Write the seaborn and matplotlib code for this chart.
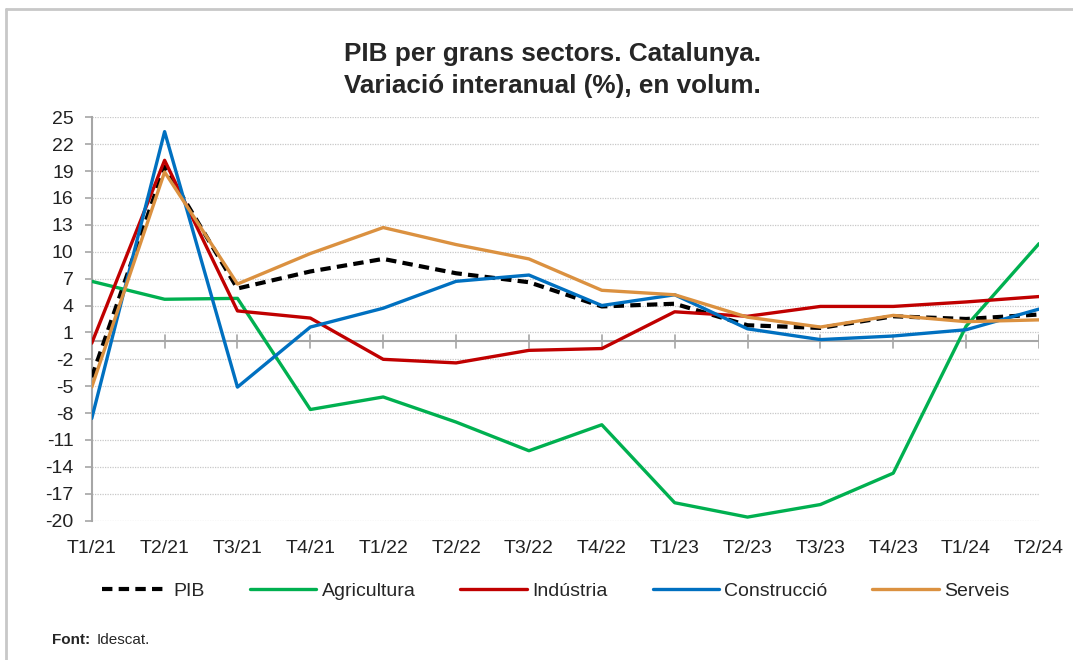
import pandas as pd
import matplotlib.pyplot as plt
import seaborn as sns
from matplotlib.lines import Line2D

# Data
quarters = ["T1/21", "T2/21", "T3/21", "T4/21", "T1/22", "T2/22", "T3/22",
            "T4/22", "T1/23", "T2/23", "T3/23", "T4/23", "T1/24", "T2/24"]
pib = [-4.0, 19.5, 5.9, 7.8, 9.2, 7.6, 6.6, 3.9, 4.2, 1.8, 1.5, 2.8, 2.5, 3.0]
agricultura = [6.7, 4.7, 4.8, -7.6, -6.2, -9.0, -12.2, -9.3, -18.0, -19.6, -18.2, -14.7, 1.7, 10.9]
industria = [-0.2, 20.2, 3.4, 2.6, -2.0, -2.4, -1.0, -0.8, 3.3, 2.8, 3.9, 3.9, 4.4, 5.0]
construccio = [-8.6, 23.4, -5.1, 1.6, 3.7, 6.7, 7.4, 4.0, 5.2, 1.4, 0.2, 0.6, 1.3, 3.6]
serveis = [-5.1, 18.9, 6.4, 9.8, 12.7, 10.8, 9.2, 5.7, 5.2, 2.7, 1.6, 2.9, 2.2, 2.4]

series = {
    "PIB": pib,
    "Agricultura": agricultura,
    "Indústria": industria,
    "Construcció": construccio,
    "Serveis": serveis,
}

rows = []
for name, vals in series.items():
    for i, v in enumerate(vals):
        rows.append({"pos": i, "valor": v, "serie": name})
df = pd.DataFrame(rows)

palette = {
    "PIB": "#000000",
    "Agricultura": "#00B050",
    "Indústria": "#C00000",
    "Construcció": "#0070C0",
    "Serveis": "#DB9140",
}
dashes = {
    "PIB": (2.5, 1.5),
    "Agricultura": "",
    "Indústria": "",
    "Construcció": "",
    "Serveis": "",
}

sns.set_style("white")
plt.rcParams["font.family"] = ["Liberation Sans", "DejaVu Sans"]

fig = plt.figure(figsize=(10.73, 6.60), dpi=100)
ax = fig.add_axes([0.0855, 0.2111, 0.8828, 0.6112])

# y grid (dotted) and zero axis
yticks = list(range(-20, 26, 3))
for t in yticks:
    ax.axhline(t, color="#c8c8c8", lw=0.9, ls=(0, (1, 1)), zorder=0)
ax.axhline(0, color="#a6a6a6", lw=1.5, zorder=1)
for i in range(1, len(quarters)):
    ax.plot([i, i], [-0.7, 0.7], color="#a6a6a6", lw=1.2, zorder=1)

sns.lineplot(
    data=df, x="pos", y="valor", hue="serie", style="serie",
    palette=palette, dashes=dashes, linewidth=2.4, ax=ax, legend=False,
    zorder=3,
)
# thicker PIB line
ax.lines[-5].set_linewidth(3.0)

ax.set_xlim(0, len(quarters) - 1)
ax.set_ylim(-20, 25)
ax.set_yticks(yticks)
ax.set_yticklabels([str(t) for t in yticks], fontsize=14, color="#222222")
ax.set_xticks(range(len(quarters)))
ax.set_xticklabels(quarters, fontsize=14, color="#222222")
ax.tick_params(axis="x", length=0, pad=14)
ax.tick_params(axis="y", length=5, width=1.2, color="#a6a6a6", pad=8, left=True)
ax.set_xlabel("")
ax.set_ylabel("")

for s in ["top", "right", "bottom"]:
    ax.spines[s].set_visible(False)
ax.spines["left"].set_color("#a6a6a6")
ax.spines["left"].set_linewidth(1.5)

fig.text(0.515, 0.894, "PIB per grans sectors. Catalunya.\nVariació interanual (%), en volum.",
         ha="center", va="center", fontsize=18.8, fontweight="bold", linespacing=1.4)

handles = [Line2D([], [], color=palette[n], lw=3.0 if n == "PIB" else 2.4,
                  dashes=dashes[n] if n == "PIB" else (None, None)) for n in series]
fig.legend(handles, list(series.keys()), loc="center", bbox_to_anchor=(0.518, 0.104),
           ncol=5, frameon=False, fontsize=14, handlelength=3.4, handletextpad=0.3,
           columnspacing=2.3)

fig.text(0.048, 0.030, "Font:", fontsize=11, fontweight="bold", ha="left", va="center")
fig.text(0.090, 0.030, "Idescat.", fontsize=11, ha="left", va="center")

# outer frame (top and left edges visible in the reference)
fig.add_artist(Line2D([0.0056, 1.0], [0.986, 0.986], transform=fig.transFigure,
                      color="#c8c8c8", lw=2))
fig.add_artist(Line2D([0.0056, 0.0056], [0.0, 0.986], transform=fig.transFigure,
                      color="#c8c8c8", lw=2))

fig.savefig("out.png", dpi=100)
